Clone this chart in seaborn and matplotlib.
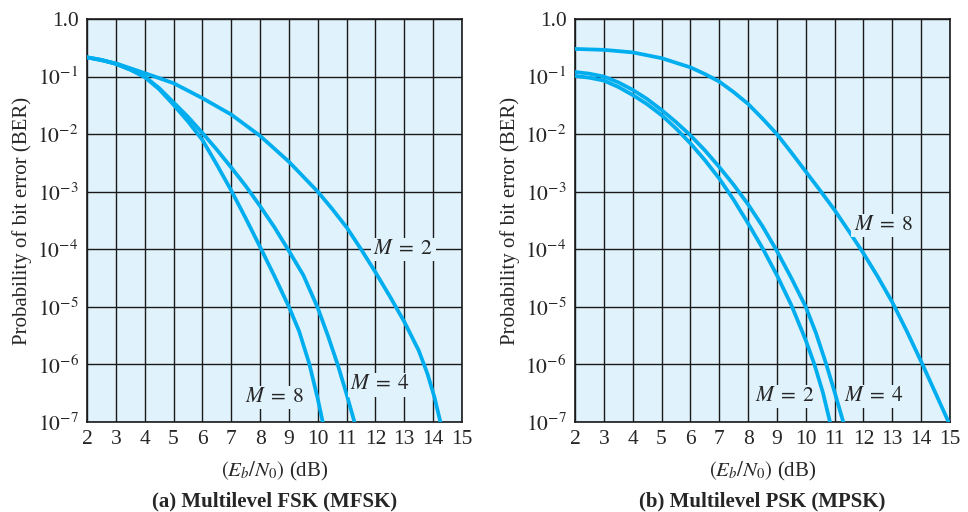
import matplotlib
matplotlib.use("Agg")
import matplotlib.pyplot as plt
import seaborn as sns
import pandas as pd

# ---- values: Eb/N0 (dB) and log10 of the bit error rate ----
fsk_m2_x = [2, 3, 4, 5, 6, 7, 8, 9, 10, 10.5, 11, 11.5, 12, 12.5, 13, 13.5, 13.8, 14.05, 14.25]
fsk_m2_log = [-0.666, -0.77, -0.94, -1.115, -1.375, -1.66, -2.03, -2.48, -3.0, -3.3, -3.62,
              -4.0, -4.4, -4.82, -5.26, -5.76, -6.16, -6.58, -7.0]

fsk_m4_x = [2, 2.5, 3, 3.5, 4, 4.5, 5, 5.5, 6, 6.5, 7, 7.5, 8, 8.5, 9, 9.5, 10, 10.35, 10.7, 11, 11.27]
fsk_m4_log = [-0.666, -0.71, -0.78, -0.88, -1.0, -1.2, -1.45, -1.7, -1.98, -2.27, -2.58, -2.9,
              -3.25, -3.62, -4.03, -4.45, -5.02, -5.5, -6.02, -6.52, -7.0]

fsk_m8_x = [2, 2.5, 3, 3.5, 4, 4.5, 5, 5.5, 6, 6.5, 7, 7.5, 8, 8.5, 9, 9.35, 9.7, 10, 10.17]
fsk_m8_log = [-0.666, -0.71, -0.78, -0.88, -1.01, -1.22, -1.49, -1.78, -2.1, -2.53, -2.98,
              -3.46, -3.96, -4.47, -5.0, -5.42, -5.98, -6.6, -7.0]

psk_m2_x = [2, 2.5, 3, 3.5, 4, 4.5, 5, 5.5, 6, 6.5, 7, 7.5, 8, 8.5, 9, 9.5, 10, 10.3, 10.6, 10.84]
psk_m2_log = [-0.99, -1.02, -1.07, -1.18, -1.32, -1.48, -1.67, -1.9, -2.16, -2.45, -2.77,
              -3.14, -3.55, -3.98, -4.45, -4.97, -5.58, -6.0, -6.5, -7.0]

psk_m4_x = [2, 2.5, 3, 3.5, 4, 4.5, 5, 5.5, 6, 6.5, 7, 7.5, 8, 8.5, 9, 9.5, 10, 10.35, 10.7, 11, 11.3]
psk_m4_log = [-0.92, -0.95, -1.0, -1.1, -1.23, -1.39, -1.58, -1.79, -2.02, -2.28, -2.57,
              -2.88, -3.22, -3.6, -4.03, -4.5, -5.0, -5.45, -5.98, -6.48, -7.0]

psk_m8_x = [2, 3, 4, 5, 6, 6.5, 7, 7.5, 8, 8.5, 9, 9.5, 10, 10.5, 11, 11.5, 12, 12.5, 13, 13.5,
            14, 14.5, 14.95]
psk_m8_log = [-0.52, -0.536, -0.58, -0.68, -0.84, -0.955, -1.087, -1.27, -1.475, -1.73, -2.0,
              -2.32, -2.65, -2.98, -3.32, -3.69, -4.07, -4.48, -4.92, -5.42, -5.95, -6.5, -7.0]

x_ticks = list(range(2, 16))
y_ticks = [1e-7, 1e-6, 1e-5, 1e-4, 1e-3, 1e-2, 1e-1, 1.0]
y_ticklabels = [r"$10^{-7}$", r"$10^{-6}$", r"$10^{-5}$", r"$10^{-4}$",
                r"$10^{-3}$", r"$10^{-2}$", r"$10^{-1}$", "1.0"]


def make_df(curves):
    frames = []
    for m, xs, logs in curves:
        frames.append(pd.DataFrame({"EbN0": xs, "BER": [10.0 ** v for v in logs], "M": m}))
    return pd.concat(frames, ignore_index=True)


fsk_df = make_df([(2, fsk_m2_x, fsk_m2_log), (4, fsk_m4_x, fsk_m4_log), (8, fsk_m8_x, fsk_m8_log)])
psk_df = make_df([(2, psk_m2_x, psk_m2_log), (4, psk_m4_x, psk_m4_log), (8, psk_m8_x, psk_m8_log)])

sns.set_style("white")
plt.rcParams["font.family"] = ["Liberation Serif", "DejaVu Serif"]
plt.rcParams["mathtext.fontset"] = "stix"

LINE = "#00aeef"
BG = "#e0f2fc"

fig = plt.figure(figsize=(9.68, 5.12), dpi=100)
ax_a = fig.add_axes([0.0899, 0.1758, 0.3874, 0.7871])
ax_b = fig.add_axes([0.594, 0.1758, 0.3874, 0.7871])


def style_axes(ax, df):
    sns.lineplot(data=df, x="EbN0", y="BER", hue="M", palette=[LINE] * 3,
                 estimator=None, legend=False, linewidth=2.7, ax=ax, zorder=3)
    ax.set_yscale("log")
    ax.set_xlim(2, 15)
    ax.set_ylim(1e-7, 1.0)
    ax.set_facecolor(BG)
    ax.set_xticks(x_ticks)
    ax.set_xticklabels([str(t) for t in x_ticks], fontsize=15.5)
    ax.set_yticks(y_ticks)
    ax.set_yticklabels(y_ticklabels, fontsize=15.5)
    ax.minorticks_off()
    ax.tick_params(length=0, pad=6)
    ax.grid(True, color="#1a1a1a", linewidth=1.0)
    ax.set_axisbelow(True)
    for s in ax.spines.values():
        s.set_color("#1a1a1a")
        s.set_linewidth(1.2)
    ax.set_xlabel(r"$(E_b/N_0)$ (dB)", fontsize=15, labelpad=8)
    ax.set_ylabel("Probability of bit error (BER)", fontsize=15, labelpad=4)


style_axes(ax_a, fsk_df)
style_axes(ax_b, psk_df)

box = dict(facecolor=BG, edgecolor="none", pad=1.5)
lab = dict(fontsize=15.5, ha="center", va="center", bbox=box, zorder=4)
ax_a.text(12.97, 1e-4, r"$M\;=\;2$", **lab)
ax_a.text(12.16, 4.4e-7, r"$M\;=\;4$", **lab)
ax_a.text(8.5, 2.7e-7, r"$M\;=\;8$", **lab)
ax_b.text(12.69, 2.6e-4, r"$M\;=\;8$", **lab)
ax_b.text(9.28, 2.8e-7, r"$M\;=\;2$", **lab)
ax_b.text(12.35, 2.8e-7, r"$M\;=\;4$", **lab)

fig.text(0.2836, 0.02, "(a) Multilevel FSK (MFSK)", ha="center", va="center",
         fontsize=15, fontweight="bold")
fig.text(0.7877, 0.02, "(b) Multilevel PSK (MPSK)", ha="center", va="center",
         fontsize=15, fontweight="bold")

fig.savefig("out.png", dpi=100)
